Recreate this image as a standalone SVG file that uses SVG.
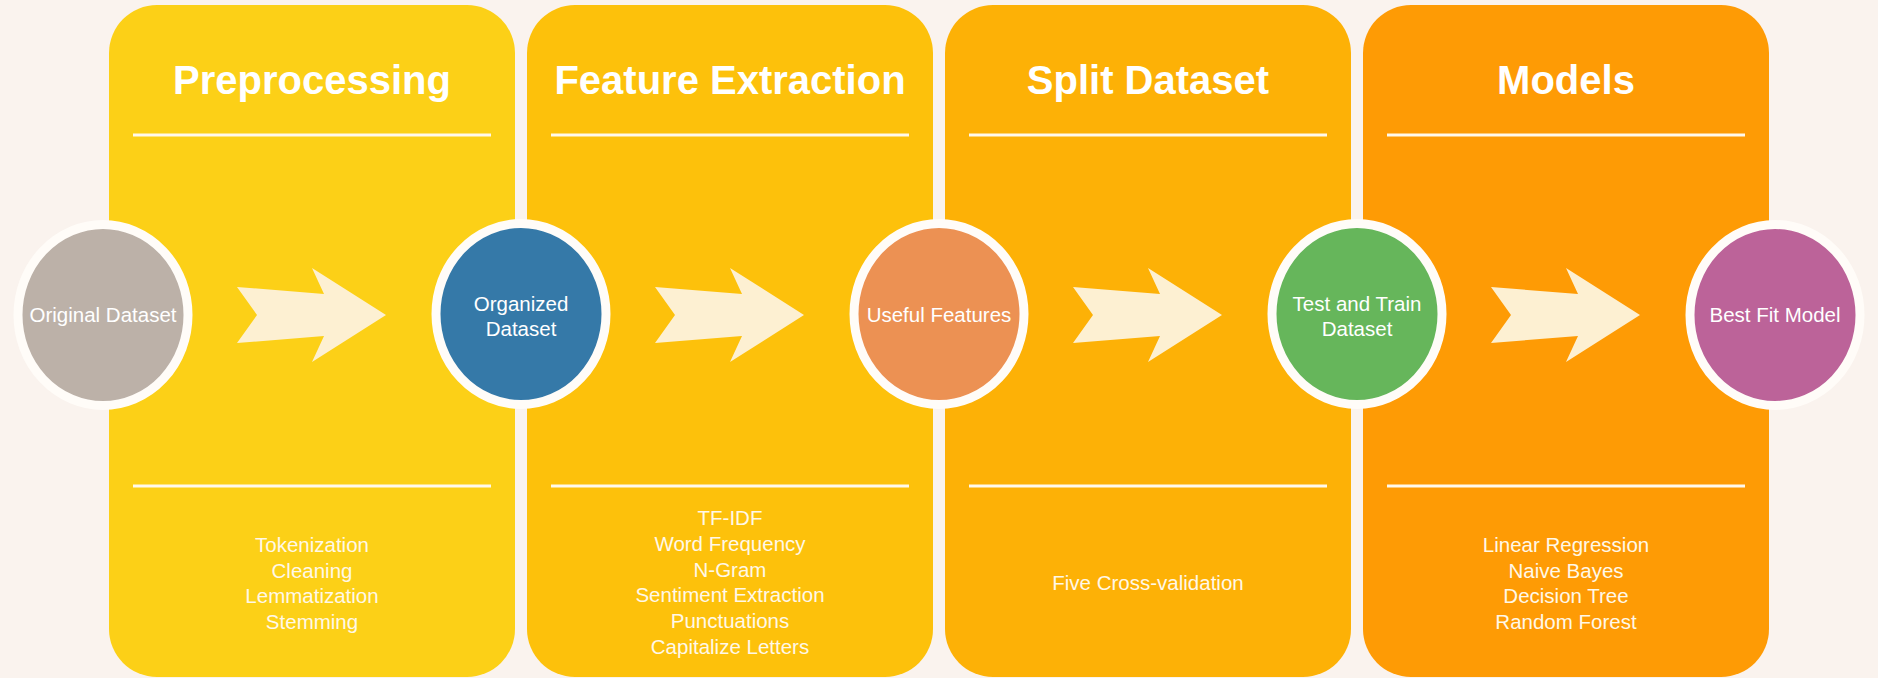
<svg xmlns="http://www.w3.org/2000/svg" width="1878" height="678" viewBox="0 0 1878 678">
<style>
.title{font-family:"Liberation Sans",Arial,sans-serif;font-weight:bold;font-size:40px;fill:#FFFFFF;text-anchor:middle}
.item{font-family:"Liberation Sans",Arial,sans-serif;font-size:20.5px;fill:#FFF8E8;text-anchor:middle}
.ctext{font-family:"Liberation Sans",Arial,sans-serif;font-size:20.5px;fill:#FFFFFF;text-anchor:middle}
.sep{stroke:#FFF9EC;stroke-width:3}
.ring{stroke:#FFFCF8;stroke-width:9}
.arrow{fill:#FDF0D2}
</style>
<rect width="1878" height="678" fill="#FAF3EE"/>

<g id="stage-preprocessing">
<rect x="109" y="5" width="406" height="672" rx="48" fill="#FCD017"/>
<text class="title" x="312" y="94">Preprocessing</text>
<line class="sep" x1="133" y1="135" x2="491" y2="135"/>
<line class="sep" x1="133" y1="486" x2="491" y2="486"/>
<text class="item" x="312" y="552">Tokenization</text>
<text class="item" x="312" y="577.5">Cleaning</text>
<text class="item" x="312" y="603">Lemmatization</text>
<text class="item" x="312" y="628.5">Stemming</text>
</g>

<g id="stage-feature-extraction">
<rect x="527" y="5" width="406" height="672" rx="48" fill="#FDC10B"/>
<text class="title" x="730" y="94">Feature Extraction</text>
<line class="sep" x1="551" y1="135" x2="909" y2="135"/>
<line class="sep" x1="551" y1="486" x2="909" y2="486"/>
<text class="item" x="730" y="525">TF-IDF</text>
<text class="item" x="730" y="550.8">Word Frequency</text>
<text class="item" x="730" y="576.6">N-Gram</text>
<text class="item" x="730" y="602.4">Sentiment Extraction</text>
<text class="item" x="730" y="628.2">Punctuations</text>
<text class="item" x="730" y="654">Capitalize Letters</text>
</g>

<g id="stage-split-dataset">
<rect x="945" y="5" width="406" height="672" rx="48" fill="#FDB106"/>
<text class="title" x="1148" y="94">Split Dataset</text>
<line class="sep" x1="969" y1="135" x2="1327" y2="135"/>
<line class="sep" x1="969" y1="486" x2="1327" y2="486"/>
<text class="item" x="1148" y="590">Five Cross-validation</text>
</g>

<g id="stage-models">
<rect x="1363" y="5" width="406" height="672" rx="48" fill="#FE9B05"/>
<text class="title" x="1566" y="94">Models</text>
<line class="sep" x1="1387" y1="135" x2="1745" y2="135"/>
<line class="sep" x1="1387" y1="486" x2="1745" y2="486"/>
<text class="item" x="1566" y="552">Linear Regression</text>
<text class="item" x="1566" y="577.5">Naive Bayes</text>
<text class="item" x="1566" y="603">Decision Tree</text>
<text class="item" x="1566" y="628.5">Random Forest</text>
</g>

<g id="connectors">
<path class="arrow" d="M237,287 L324,294 L312,268 L386,315 L312,362 L324,336 L237,343 L257,315 Z"/>
<path class="arrow" d="M655,287 L742,294 L730,268 L804,315 L730,362 L742,336 L655,343 L675,315 Z"/>
<path class="arrow" d="M1073,287 L1160,294 L1148,268 L1222,315 L1148,362 L1160,336 L1073,343 L1093,315 Z"/>
<path class="arrow" d="M1491,287 L1578,294 L1566,268 L1640,315 L1566,362 L1578,336 L1491,343 L1511,315 Z"/>
</g>

<g id="node-original-dataset">
<ellipse class="ring" cx="103" cy="315" rx="85" ry="90.5" fill="#BCB1A8"/>
<text class="ctext" x="103" y="322">Original Dataset</text>
</g>

<g id="node-organized-dataset">
<ellipse class="ring" cx="521" cy="314" rx="85" ry="90.5" fill="#3579A8"/>
<text class="ctext" x="521" y="311">Organized</text>
<text class="ctext" x="521" y="336">Dataset</text>
</g>

<g id="node-useful-features">
<ellipse class="ring" cx="939" cy="314" rx="85" ry="90.5" fill="#EC9153"/>
<text class="ctext" x="939" y="322">Useful Features</text>
</g>

<g id="node-test-train-dataset">
<ellipse class="ring" cx="1357" cy="314" rx="85" ry="90.5" fill="#66B65B"/>
<text class="ctext" x="1357" y="311">Test and Train</text>
<text class="ctext" x="1357" y="336">Dataset</text>
</g>

<g id="node-best-fit-model">
<ellipse class="ring" cx="1775" cy="315" rx="85" ry="90.5" fill="#BC6399"/>
<text class="ctext" x="1775" y="322">Best Fit Model</text>
</g>
</svg>
